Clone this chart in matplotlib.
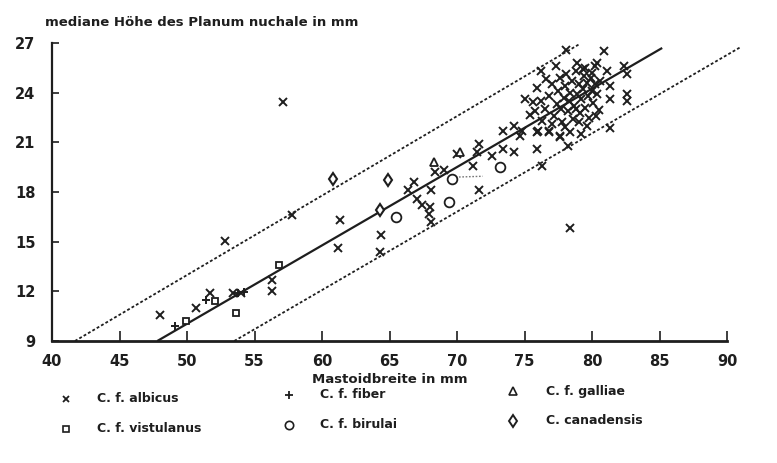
import matplotlib
matplotlib.use("Agg")
import matplotlib.pyplot as plt
from matplotlib.lines import Line2D

plt.rcParams['font.family'] = ['DejaVu Sans']
plt.rcParams['font.weight'] = 'bold'

INK = '#1e1e1e'

# ---------------- data ----------------
albicus_x = [48.0, 50.7, 51.7, 52.8, 53.4, 54.0, 56.3, 56.3, 57.1, 57.8, 61.3, 61.2, 64.4, 64.3,
             66.4, 66.8, 67.0, 67.4, 68.0, 67.9, 68.1, 68.1, 68.4, 69.0, 70.0, 71.5, 71.6, 71.2,
             71.6, 72.6, 73.4, 74.2, 73.4, 74.2, 74.7, 75.9, 76.8, 77.6, 75.4, 75.9, 76.3, 78.2,
             78.4, 74.8, 76.0,
             78.05, 80.9, 76.2, 78.9, 79.3, 80.4, 80.2, 81.1, 82.4, 82.6, 81.3, 81.3, 82.6, 82.6,
             81.3, 80.5, 75.0, 75.65, 75.9, 77.6, 76.8,
             76.5, 76.8, 77.0, 77.2, 77.4, 77.5, 77.6, 77.8, 77.9, 78.0, 78.1, 78.2, 78.3, 78.4,
             78.5, 78.6, 78.7, 78.8, 78.9, 79.0, 79.1, 79.2, 79.3, 79.4, 79.5, 79.6, 79.7, 79.8,
             79.9, 80.0, 80.1, 80.2, 80.4, 80.6, 80.0, 79.5, 77.3, 76.6, 76.2, 75.8, 77.0, 78.0,
             79.0, 80.3, 79.2, 78.4, 76.3, 77.7, 78.8, 79.6]
albicus_y = [10.6, 11.0, 11.9, 15.05, 11.9, 11.9, 12.7, 12.0, 23.45, 16.6, 16.3, 14.6, 15.4, 14.4,
             18.1, 18.6, 17.6, 17.2, 17.1, 16.7, 16.2, 18.1, 19.2, 19.3, 20.3, 20.4, 20.9, 19.6,
             18.1, 20.2, 20.6, 20.4, 21.7, 22.0, 21.4, 21.6, 21.6, 21.4, 22.65, 20.6, 19.6, 20.8,
             15.8, 21.7, 21.7,
             26.57, 26.5, 25.3, 25.8, 25.4, 25.8, 25.6, 25.3, 25.6, 25.1, 24.4, 23.6, 23.9, 23.5,
             21.85, 22.95, 23.6, 23.45, 24.3, 21.3, 21.7,
             23.0, 23.8, 24.5, 22.6, 23.3, 24.1, 24.9, 22.2, 23.7, 24.4, 25.1, 22.9, 23.5, 24.0,
             24.7, 22.4, 23.2, 25.3, 23.9, 24.5, 22.8, 23.6, 24.2, 25.0, 23.1, 24.6, 23.8, 22.5,
             24.9, 24.1, 23.4, 24.5, 23.9, 24.7, 25.2, 25.5, 25.6, 24.8, 23.5, 22.9, 22.1, 21.9,
             22.2, 22.6, 21.5, 21.6, 22.3, 23.0, 23.0, 22.0]

vistulanus_x = [49.9, 52.1, 53.6, 56.8]
vistulanus_y = [10.2, 11.4, 10.7, 13.6]

fiber_x = [49.1, 51.4, 53.8, 54.2]
fiber_y = [9.9, 11.5, 11.9, 11.95]

birulai_x = [73.2, 69.6, 69.4, 65.5]
birulai_y = [19.5, 18.8, 17.4, 16.5]

galliae_x = [68.3, 70.2]
galliae_y = [19.8, 20.4]

canadensis_x = [60.8, 64.9, 64.3]
canadensis_y = [18.8, 18.7, 16.9]

# regression line and limit lines (end points)
reg_x = [47.8, 85.2]
reg_y = [9.0, 26.7]
upper_x = [41.7, 79.0]
upper_y = [9.0, 26.9]
lower_x = [53.5, 91.0]
lower_y = [9.0, 26.75]
link_x = [69.9, 71.9]
link_y = [18.9, 18.95]

x_ticks = [40, 45, 50, 55, 60, 65, 70, 75, 80, 85, 90]
y_ticks = [9, 12, 15, 18, 21, 24, 27]

title = "mediane Höhe des Planum nuchale in mm"
xlabel = "Mastoidbreite in mm"
legend_labels = ["C. f. albicus", "C. f. vistulanus", "C. f. fiber",
                 "C. f. birulai", "C. f. galliae", "C. canadensis"]

# ---------------- figure ----------------
fig = plt.figure(figsize=(7.77, 4.63), dpi=100)
ax = fig.add_axes([52/777, 1 - 341/463, 675/777, 298/463])
ax.set_xlim(40, 90)
ax.set_ylim(9, 27)

for s in ['top', 'right']:
    ax.spines[s].set_visible(False)
ax.spines['left'].set_linewidth(1.6)
ax.spines['bottom'].set_linewidth(2.0)
ax.spines['left'].set_color(INK)
ax.spines['bottom'].set_color(INK)

ax.set_xticks(x_ticks)
ax.set_yticks(y_ticks)
ax.set_xticklabels([str(v) for v in x_ticks])
ax.set_yticklabels([str(v) for v in y_ticks])
ax.tick_params(axis='x', direction='in', length=7, width=1.2, pad=9,
               labelsize=10.5, colors=INK)
ax.tick_params(axis='y', direction='in', length=5, width=1.2, pad=12,
               labelsize=10.5, colors=INK)

# lines
ax.plot(reg_x, reg_y, color=INK, lw=1.6, solid_capstyle='butt', zorder=2)
ax.plot(upper_x, upper_y, color=INK, lw=1.3, ls=(0, (1.6, 1.2)), zorder=2)
ax.plot(lower_x, lower_y, color=INK, lw=1.3, ls=(0, (1.6, 1.2)), zorder=2, clip_on=False)
ax.plot(link_x, link_y, color='#777777', lw=1.0, ls=(0, (1.2, 1.2)), zorder=2)

mk = dict(ls='none', color=INK, zorder=3, clip_on=False)
ax.plot(albicus_x, albicus_y, marker='x', ms=5.5, mew=1.4, **mk)
ax.plot(vistulanus_x, vistulanus_y, marker='s', ms=5, mew=1.3, mfc='white', **mk)
ax.plot(fiber_x, fiber_y, marker='+', ms=6, mew=1.4, **mk)
ax.plot(birulai_x, birulai_y, marker='o', ms=7, mew=1.3, mfc='white', **mk)
ax.plot(galliae_x, galliae_y, marker='^', ms=6, mew=1.3, mfc='white', **mk)
ax.plot(canadensis_x, canadensis_y, marker='d', ms=6.5, mew=1.5, mfc='white', **mk)

fig.text(45/777, 1 - 22/463, title, fontsize=9.5, fontweight='bold', color=INK,
         ha='left', va='center')
ax.set_xlabel(xlabel, fontsize=9.5, fontweight='bold', color=INK, labelpad=3)

# legend (3 columns x 2 rows)
leg_styles = [
    dict(marker='x', ms=5, mew=1.3),
    dict(marker='s', ms=4.5, mew=1.2, mfc='white'),
    dict(marker='+', ms=6, mew=1.3),
    dict(marker='o', ms=6, mew=1.2, mfc='white'),
    dict(marker='^', ms=5.5, mew=1.2, mfc='white'),
    dict(marker='d', ms=6, mew=1.4, mfc='white'),
]
col_x = [66, 289, 513]
text_x = [97, 320, 546]
row_y = [(399, 429), (395, 425), (391, 421)]
for i, (lab, st) in enumerate(zip(legend_labels, leg_styles)):
    c, r = divmod(i, 2)
    yy = 1 - row_y[c][r] / 463
    fig.add_artist(Line2D([col_x[c] / 777], [yy], transform=fig.transFigure,
                          color=INK, ls='none', **st))
    fig.text(text_x[c] / 777, yy, lab, fontsize=9, fontweight='bold',
             color=INK, ha='left', va='center')

fig.savefig("out.png", dpi=100, facecolor='white')
